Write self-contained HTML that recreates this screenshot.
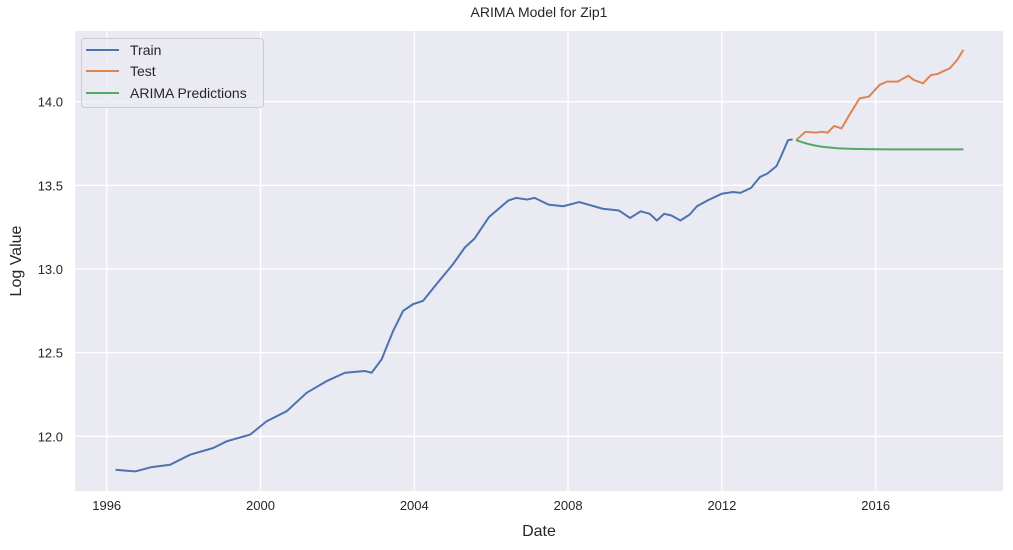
<!DOCTYPE html>
<html><head><meta charset="utf-8"><style>
body{margin:0;background:#fff;}
svg{display:block;font-family:"Liberation Sans",sans-serif;}
</style></head><body>
<svg id="chart" width="1013" height="550">
<rect x="75" y="31" width="928" height="460" fill="#eaeaf2"/>
<g id="grid"></g><g id="series"></g><g id="ticks"></g>
<text x="539" y="17" text-anchor="middle" font-size="14" fill="#262626">ARIMA Model for Zip1</text>
<text x="539" y="536" text-anchor="middle" font-size="16" fill="#262626">Date</text>
<text transform="translate(21,261) rotate(-90)" text-anchor="middle" font-size="16" fill="#262626">Log Value</text>
<g>
<rect x="81.5" y="38.5" width="182" height="69" rx="3" fill="#eaeaf2" fill-opacity="0.8" stroke="#cccccc"/>
<line x1="86" y1="50" x2="119" y2="50" stroke="#4c72b0" stroke-width="2"/>
<text x="130" y="55" font-size="14" fill="#262626">Train</text>
<line x1="86" y1="71" x2="119" y2="71" stroke="#dd8452" stroke-width="2"/>
<text x="130" y="76" font-size="14" fill="#262626">Test</text>
<line x1="86" y1="93" x2="119" y2="93" stroke="#55a868" stroke-width="2"/>
<text x="130" y="98" font-size="14" fill="#262626">ARIMA Predictions</text>
</g>
</svg>
<script>
const trainDates=[1996.23,1996.74,1997.17,1997.65,1998.17,1998.77,1999.12,1999.73,2000.16,2000.68,2001.20,2001.72,2002.20,2002.72,2002.89,2003.15,2003.45,2003.71,2003.97,2004.23,2004.58,2005.01,2005.32,2005.56,2005.94,2006.45,2006.65,2006.93,2007.13,2007.49,2007.87,2008.29,2008.90,2009.32,2009.61,2009.89,2010.12,2010.31,2010.50,2010.69,2010.92,2011.16,2011.35,2011.63,2012.00,2012.29,2012.48,2012.76,2012.99,2013.18,2013.42,2013.56,2013.72,2013.84];
const trainValues=[11.80,11.79,11.816,11.83,11.89,11.93,11.97,12.01,12.09,12.15,12.26,12.33,12.38,12.39,12.38,12.46,12.63,12.75,12.79,12.81,12.91,13.03,13.13,13.18,13.31,13.41,13.425,13.415,13.425,13.385,13.375,13.40,13.36,13.35,13.305,13.345,13.33,13.29,13.33,13.32,13.29,13.325,13.375,13.41,13.45,13.46,13.455,13.485,13.55,13.57,13.615,13.685,13.77,13.775];
const testDates=[2013.93,2014.17,2014.45,2014.59,2014.75,2014.92,2015.11,2015.30,2015.58,2015.82,2016.10,2016.29,2016.57,2016.85,2016.99,2017.23,2017.44,2017.60,2017.74,2017.93,2018.12,2018.28];
const testValues=[13.77,13.82,13.815,13.82,13.815,13.855,13.84,13.915,14.02,14.03,14.10,14.12,14.12,14.155,14.13,14.11,14.16,14.165,14.18,14.20,14.25,14.31];
const predDates=[2013.93,2014.1,2014.25,2014.4,2014.6,2014.8,2015.0,2015.3,2015.6,2016.0,2016.5,2017.0,2017.5,2018.0,2018.28];
const predValues=[13.77,13.757,13.747,13.739,13.731,13.726,13.722,13.719,13.717,13.716,13.715,13.715,13.715,13.715,13.715];
const xTicks=[1996,2000,2004,2008,2012,2016];
const yTicks=[12.0,12.5,13.0,13.5,14.0];
const xs=d=>106.7+(d-1996)*38.45;
const ys=v=>436.3-(v-12)*167.3;
const NS='http://www.w3.org/2000/svg';
function mk(tag,parent,attrs){const e=document.createElementNS(NS,tag);for(const k in attrs)e.setAttribute(k,attrs[k]);parent.appendChild(e);return e;}
const grid=document.getElementById('grid'),ticks=document.getElementById('ticks'),ser=document.getElementById('series');
xTicks.forEach(t=>{
 const l=mk('line',grid,{x1:xs(t),x2:xs(t),y1:31,y2:491,stroke:'#fff','stroke-width':1.3});
 
 
 const tx=mk('text',ticks,{x:xs(t),y:510,'text-anchor':'middle','font-size':13,fill:'#262626'});
 tx.textContent=t;
 
 
});
yTicks.forEach(t=>{
 const l=mk('line',grid,{x1:75,x2:1003,y1:ys(t),y2:ys(t),stroke:'#fff','stroke-width':1.3});
 
 
 const tx=mk('text',ticks,{x:63,y:ys(t)+5,'text-anchor':'end','font-size':13,fill:'#262626'});
 tx.textContent=t.toFixed(1);
 
 
});
function line(d,v,c,name){
 const p=mk('polyline',ser,{points:d.map((x,i)=>xs(x)+','+ys(v[i])).join(' '),fill:'none',stroke:c,'stroke-width':2,'stroke-linejoin':'round'});
 
 
}
line(trainDates,trainValues,'#4c72b0','train-line');
line(testDates,testValues,'#dd8452','test-line');
line(predDates,predValues,'#55a868','arima-predictions-line');
</script>
</body></html>
